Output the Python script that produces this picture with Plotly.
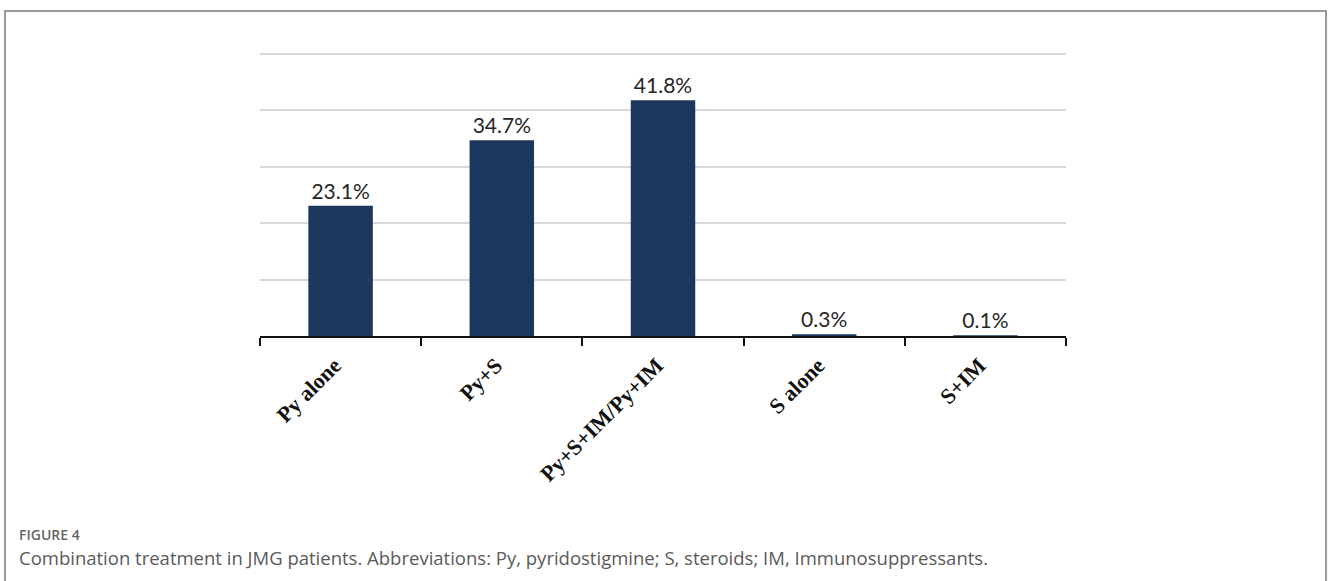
import plotly.graph_objects as go

# Treatment combinations and share of patients (%)
categories = ["Py alone", "Py+S", "Py+S+IM/Py+IM", "S alone", "S+IM"]
shares = [23.1, 34.7, 41.8, 0.3, 0.1]
y_ticks = [0, 10, 20, 30, 40, 50]

caption_head = "FIGURE 4"
caption_text = ("Combination treatment in JMG patients. Abbreviations: Py, pyridostigmine; "
                "S, steroids; IM, Immunosuppressants.")

W, H = 1328, 581

# vertical layout of the plot area (pixels from top)
y_zero_px = 336
px_per_unit = (336 - 54) / 50
y_max = 51
y_top_px = y_zero_px - y_max * px_per_unit

fig = go.Figure(
    go.Bar(
        x=categories,
        y=shares,
        marker=dict(color="#1b375e", line=dict(width=0)),
        texttemplate="%{y:.1f}%",
        textposition="outside",
        textfont=dict(family="Lato, 'Open Sans', sans-serif", size=21, color="#262626"),
        cliponaxis=False,
        width=0.4,
    )
)

fig.update_layout(
    width=W,
    height=H,
    margin=dict(l=0, r=0, t=0, b=0),
    paper_bgcolor="white",
    plot_bgcolor="white",
    showlegend=False,
    xaxis=dict(
        domain=[260 / W, 1066 / W],
        type="category",
        showline=True,
        linecolor="#111111",
        linewidth=2,
        ticks="outside",
        tickson="boundaries",
        ticklen=8,
        tickwidth=2,
        tickcolor="#111111",
        tickangle=-45,
        ticklabelshift=-6,
        ticklabelstandoff=6,
        tickfont=dict(family="'Liberation Serif', 'Times New Roman', serif",
                      size=22, color="#111111", weight="bold"),
        showgrid=False,
        automargin=False,
    ),
    yaxis=dict(
        domain=[1 - y_zero_px / H, 1 - y_top_px / H],
        range=[0, y_max],
        tickvals=y_ticks,
        showticklabels=False,
        showgrid=True,
        gridcolor="#d9d9d9",
        gridwidth=1.5,
        zeroline=False,
        showline=False,
        automargin=False,
    ),
    shapes=[
        dict(
            type="rect", xref="paper", yref="paper",
            x0=5 / W, x1=1326 / W, y0=-0.05, y1=1 - 11 / H,
            line=dict(color="#7a7a7a", width=1.5),
            fillcolor="rgba(0,0,0,0)", layer="below",
        )
    ],
    annotations=[
        dict(
            text=caption_head, xref="paper", yref="paper",
            x=17 / W, y=1 - 534 / H, xanchor="left", yanchor="middle",
            showarrow=False,
            font=dict(family="'Open Sans', sans-serif", size=14, color="#666666", weight=600),
        ),
        dict(
            text=caption_text, xref="paper", yref="paper",
            x=17 / W, y=1 - 557 / H, xanchor="left", yanchor="middle",
            showarrow=False,
            font=dict(family="'Open Sans', sans-serif", size=18.5, color="#5a5a5a"),
        ),
    ],
)

fig.write_html("out.html")
